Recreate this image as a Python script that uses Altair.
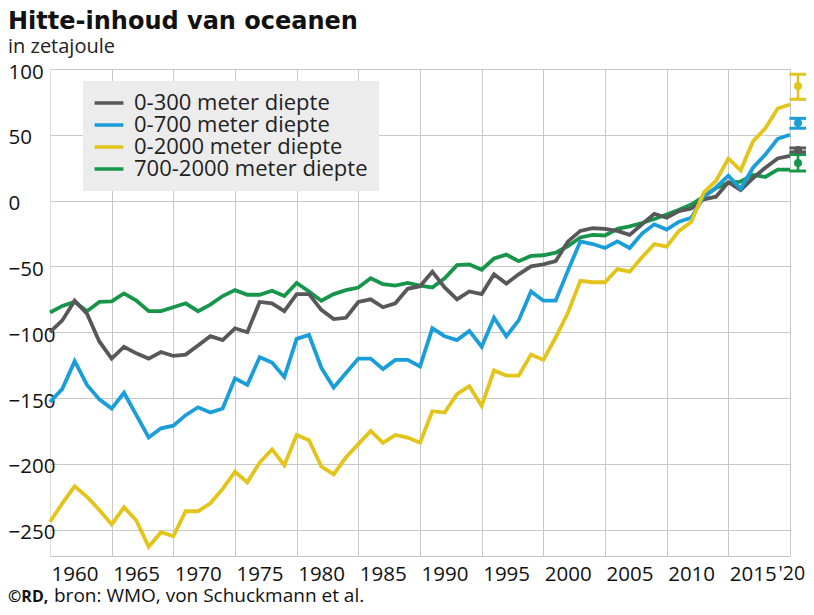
import altair as alt
import pandas as pd

# ---------------- data ----------------
years = list(range(1960, 2021))
series_names = ["0-300 meter diepte", "0-700 meter diepte", "0-2000 meter diepte", "700-2000 meter diepte"]
series_colors = ["#58585a", "#1a9ed9", "#e2c41a", "#17964a"]

d0_300 = [-100, -91, -76, -86, -107, -120, -111, -116, -120, -115,
          -118, -117, -110, -103, -106, -97, -100, -77, -78, -84,
          -71, -71, -83, -90, -89, -77, -75, -81, -78, -67,
          -65, -54, -66, -75, -69, -71, -56, -63, -56, -50,
          -48.5, -46, -31, -23, -21, -21.5, -23, -26, -18, -10,
          -13, -8, -6, 1, 3, 14, 8, 17, 25, 32,
          34]
d0_700 = [-153, -143, -122, -140, -151, -158, -146, -163, -180, -173,
          -171, -163, -157, -161, -158, -135, -140, -119, -123, -134,
          -105, -102, -127, -142, -131, -120, -120, -128, -121, -121,
          -126, -97, -103, -106, -99, -111, -89, -103, -91, -69,
          -76, -76, -53, -31, -33, -36, -31, -36, -25, -18,
          -22, -16, -13, 3, 10, 19, 9, 25, 35, 47,
          50]
d0_2000 = [-244, -230, -217, -225, -235, -246, -233, -243, -263, -252,
           -255, -236, -236, -230, -219, -206, -214, -199, -189, -201,
           -178, -182, -202, -208, -195, -185, -175, -184, -178, -180,
           -184, -160, -161, -147, -141, -156, -129, -133, -133, -117,
           -121, -104, -85, -61, -62, -62, -52, -54, -43, -33,
           -35, -23, -16, 6, 15, 32, 23, 45, 55, 70,
           73]
d700_2000 = [-85, -80, -77, -84, -77, -76.5, -70.5, -76, -84, -84,
             -81, -78, -84, -79, -72.5, -68, -71.5, -71.5, -68.5, -72.5,
             -62.5, -69, -76, -71, -68, -66, -59, -63.5, -64.5, -62.5,
             -64.5, -66, -59, -49, -48.5, -52.5, -44, -41, -46, -42,
             -41.5, -39.5, -34.5, -28, -26, -26.5, -21.5, -19.5, -17, -14,
             -10.5, -7, -3, 3, 9.5, 13.5, 14.5, 19.5, 18, 23.5,
             23.5]

# uncertainty bars at the right edge (same order as series_names)
err_mid = [38.5, 59, 87, 28.5]
err_low = [37, 55, 77, 22.5]
err_high = [40, 62.5, 96, 35]

x_ticks = list(range(1960, 2021, 5))
y_ticks = list(range(-250, 101, 50))

# ---------------- tables ----------------
rows = []
for name, vals in [(series_names[3], d700_2000), (series_names[0], d0_300),
                   (series_names[1], d0_700), (series_names[2], d0_2000)]:
    for yr, v in zip(years, vals):
        rows.append({"jaar": yr, "reeks": name, "waarde": v})
df = pd.DataFrame(rows)

err = pd.DataFrame({"reeks": series_names, "kleur": series_colors,
                    "midden": err_mid, "laag": err_low, "hoog": err_high})

FONT = "Open Sans"
TITLE_FONT = "DejaVu Sans"

x_axis = alt.Axis(
    values=x_ticks, format="d", title=None,
    labelExpr="datum.value == 2020 ? \"'20\" : datum.label",
    labelAlign="left", labelBaseline="top", labelPadding=8,
    labelOffset={"condition": {"test": "datum.value == 2020", "value": -12}, "value": 1},
    labelFont=FONT,
    labelFontSize={"condition": {"test": "datum.value == 2020", "value": 19.5}, "value": 20.5},
    labelColor="#111111",
    ticks=False, tickSize=0, domain=True, domainColor="#c4c4c4", domainWidth=1,
    grid=True, gridColor="#c8c8c8", gridWidth=1,
    gridOpacity={"condition": {"test": "datum.value == 1960", "value": 0}, "value": 1},
)
y_axis = alt.Axis(
    values=y_ticks, title=None,
    labelAlign="left", labelBaseline="middle", labelPadding=42, labelOffset=3,
    labelFont=FONT, labelFontSize=20.5, labelColor="#111111",
    ticks=False, tickSize=0, domain=False,
    grid=True, gridColor="#c8c8c8", gridWidth=1,
)

x_scale = alt.Scale(domain=[1960, 2020], nice=False, zero=False)
y_scale = alt.Scale(domain=[-270, 100], nice=False, zero=False)

lines = alt.Chart(df).mark_line(strokeWidth=3.8).encode(
    x=alt.X("jaar:Q", scale=x_scale, axis=x_axis),
    y=alt.Y("waarde:Q", scale=y_scale, axis=y_axis),
    color=alt.Color(
        "reeks:N",
        scale=alt.Scale(domain=series_names, range=series_colors),
        legend=alt.Legend(
            title=None, orient="none", legendX=33, legendY=12,
            fillColor="#ececec", padding=11, rowPadding=0,
            symbolType="M-1.6,0H1.6", symbolSize=324, symbolStrokeWidth=3.5,
            symbolOffset=4,
            labelFont=FONT, labelFontSize=22, labelColor="#222222", labelOffset=14,
            labelLimit=400,
        ),
    ),
)

err_base = alt.Chart(err)
vbar = err_base.mark_rule(strokeWidth=2.5).encode(
    x=alt.datum(2020.65),
    y=alt.Y("laag:Q", title=None),
    y2="hoog:Q",
    color=alt.Color("kleur:N", scale=None),
)
cap_hi = err_base.mark_rule(strokeWidth=3).encode(
    x=alt.datum(2019.95), x2=alt.datum(2021.3),
    y=alt.Y("hoog:Q", title=None),
    color=alt.Color("kleur:N", scale=None),
)
cap_lo = err_base.mark_rule(strokeWidth=3).encode(
    x=alt.datum(2019.95), x2=alt.datum(2021.3),
    y=alt.Y("laag:Q", title=None),
    color=alt.Color("kleur:N", scale=None),
)
dots = err_base.mark_circle(size=64, opacity=1).encode(
    x=alt.datum(2020.65),
    y=alt.Y("midden:Q", title=None),
    color=alt.Color("kleur:N", scale=None),
)

src = pd.DataFrame({"rd": ["©RD,"], "bron": ["bron: WMO, von Schuckmann et al."]})
src_rd = alt.Chart(src).mark_text(align="left", baseline="alphabetic", font=FONT,
                                  fontSize=16, fontWeight="bold", color="#111111").encode(
    x=alt.value(-42), y=alt.value(533), text="rd:N")
src_bron = alt.Chart(src).mark_text(align="left", baseline="alphabetic", font=FONT,
                                    fontSize=19, color="#111111").encode(
    x=alt.value(4), y=alt.value(533), text="bron:N")

chart = alt.layer(lines, vbar, cap_hi, cap_lo, dots, src_rd, src_bron).properties(
    width=740, height=487,
    padding={"left": 42, "top": 61, "right": 16, "bottom": 51},
    autosize=alt.AutoSizeParams(type="none"),
    title=alt.TitleParams(
        text="Hitte-inhoud van oceanen", subtitle="in zetajoule",
        anchor="start", font=TITLE_FONT, fontSize=24, fontWeight="bold", color="#111111",
        subtitleFont=FONT, subtitleFontSize=20, subtitleColor="#222222",
        subtitlePadding=3, offset=5,
    ),
).configure_view(stroke=None).configure(background="white")

chart.save("out.html", embed_options={"renderer": "svg", "actions": False})
